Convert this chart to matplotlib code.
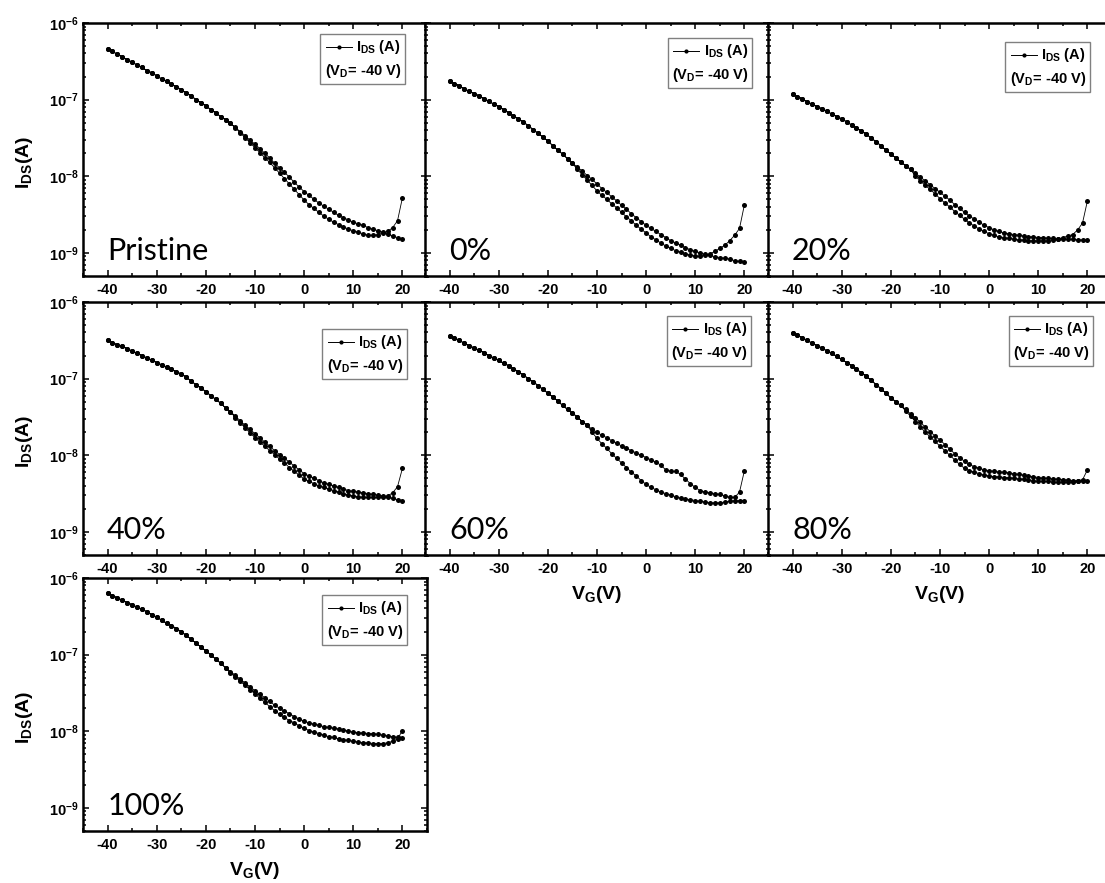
import numpy as np
import matplotlib
matplotlib.use("Agg")
import matplotlib.pyplot as plt
from matplotlib.ticker import FixedLocator, FuncFormatter, LogLocator, NullFormatter, MultipleLocator
from matplotlib.offsetbox import AnchoredOffsetbox, VPacker, HPacker, TextArea, DrawingArea
from matplotlib.lines import Line2D

plt.rcParams['font.family'] = ['Liberation Sans', 'DejaVu Sans']
plt.rcParams['mathtext.fontset'] = 'custom'
plt.rcParams['mathtext.rm'] = 'Liberation Sans'
plt.rcParams['mathtext.it'] = 'Liberation Sans:italic'
plt.rcParams['mathtext.bf'] = 'Liberation Sans:bold'

# ---------------- data (log10 of I_DS in A), V_G from -40 V to 20 V step 1 V ----------------
vg = list(range(-40, 21))

pristine_common = [-6.34, -6.37, -6.41, -6.44, -6.48, -6.51, -6.55, -6.58, -6.62, -6.65, -6.69, -6.73, -6.76,
                   -6.80, -6.83, -6.87, -6.91, -6.95, -7.00, -7.04, -7.08, -7.13, -7.17, -7.22, -7.26, -7.31]
pristine_a = pristine_common + [-7.37, -7.43, -7.50, -7.56, -7.63, -7.69, -7.76, -7.82, -7.89, -7.96, -8.03, -8.10,
                                -8.17, -8.24, -8.31, -8.37, -8.42, -8.47, -8.52, -8.56, -8.60, -8.63, -8.66, -8.69,
                                -8.71, -8.73, -8.75, -8.77, -8.77, -8.76, -8.74, -8.72, -8.67, -8.58, -8.28]
pristine_b = pristine_common + [-7.36, -7.42, -7.47, -7.53, -7.58, -7.64, -7.70, -7.76, -7.83, -7.89, -7.95, -8.01,
                                -8.08, -8.14, -8.20, -8.25, -8.30, -8.35, -8.39, -8.43, -8.47, -8.51, -8.54, -8.57,
                                -8.60, -8.62, -8.64, -8.67, -8.69, -8.71, -8.73, -8.75, -8.78, -8.80, -8.82]

p00_common = [-6.76, -6.79, -6.82, -6.86, -6.89, -6.92, -6.95, -6.99, -7.02, -7.06, -7.09, -7.13, -7.17,
              -7.21, -7.25, -7.29, -7.34, -7.39, -7.44, -7.49, -7.54, -7.60, -7.66, -7.71, -7.77, -7.83]
p00_a = p00_common + [-7.91, -7.98, -8.05, -8.12, -8.19, -8.25, -8.30, -8.36, -8.41, -8.47, -8.53, -8.58, -8.64,
                      -8.69, -8.74, -8.79, -8.83, -8.87, -8.91, -8.94, -8.97, -8.99, -9.01, -9.03, -9.04, -9.04,
                      -9.03, -9.01, -8.98, -8.94, -8.90, -8.84, -8.77, -8.68, -8.37]
p00_b = p00_common + [-7.88, -7.93, -7.99, -8.04, -8.10, -8.16, -8.21, -8.27, -8.32, -8.38, -8.43, -8.49, -8.54,
                      -8.59, -8.64, -8.68, -8.72, -8.76, -8.80, -8.84, -8.87, -8.90, -8.93, -8.96, -8.98, -9.00,
                      -9.02, -9.03, -9.05, -9.06, -9.07, -9.08, -9.10, -9.11, -9.12]

p20_common = [-6.93, -6.96, -6.99, -7.03, -7.06, -7.09, -7.12, -7.15, -7.19, -7.22, -7.25, -7.29, -7.33,
              -7.37, -7.41, -7.45, -7.50, -7.55, -7.60, -7.66, -7.71, -7.76, -7.81, -7.86, -7.91]
p20_a = p20_common + [-8.00, -8.06, -8.12, -8.17, -8.23, -8.29, -8.35, -8.40, -8.46, -8.51, -8.56, -8.61, -8.65,
                      -8.69, -8.72, -8.75, -8.77, -8.79, -8.80, -8.81, -8.82, -8.83, -8.83, -8.84, -8.84, -8.84,
                      -8.84, -8.84, -8.83, -8.82, -8.80, -8.78, -8.76, -8.70, -8.61, -8.32]
p20_b = p20_common + [-7.96, -8.01, -8.06, -8.11, -8.16, -8.21, -8.26, -8.31, -8.37, -8.42, -8.47, -8.52, -8.56,
                      -8.60, -8.64, -8.67, -8.70, -8.72, -8.74, -8.75, -8.76, -8.77, -8.78, -8.79, -8.79, -8.80,
                      -8.80, -8.81, -8.81, -8.82, -8.82, -8.82, -8.82, -8.83, -8.83, -8.83]

p40_common = [-6.50, -6.53, -6.56, -6.58, -6.61, -6.64, -6.67, -6.70, -6.73, -6.76, -6.79, -6.82, -6.85,
              -6.88, -6.91, -6.94, -6.98, -7.03, -7.08, -7.12, -7.17, -7.22, -7.27, -7.32, -7.38, -7.43]
p40_a = p40_common + [-7.51, -7.58, -7.64, -7.71, -7.77, -7.83, -7.88, -7.94, -7.99, -8.05, -8.10, -8.16, -8.21,
                      -8.26, -8.31, -8.34, -8.37, -8.40, -8.42, -8.44, -8.46, -8.48, -8.50, -8.52, -8.53, -8.54,
                      -8.55, -8.55, -8.55, -8.55, -8.54, -8.53, -8.49, -8.41, -8.17]
p40_b = p40_common + [-7.49, -7.55, -7.61, -7.66, -7.72, -7.77, -7.83, -7.88, -7.94, -7.99, -8.04, -8.09, -8.14,
                      -8.19, -8.24, -8.27, -8.30, -8.33, -8.36, -8.38, -8.40, -8.42, -8.44, -8.46, -8.47, -8.48,
                      -8.49, -8.50, -8.51, -8.52, -8.53, -8.55, -8.56, -8.58, -8.59]

p60_common = [-6.44, -6.47, -6.50, -6.54, -6.57, -6.60, -6.63, -6.66, -6.70, -6.73, -6.76, -6.80, -6.83,
              -6.87, -6.91, -6.95, -7.00, -7.04, -7.09, -7.14, -7.19, -7.24, -7.29, -7.35, -7.40, -7.45,
              -7.50, -7.56, -7.61]
p60_a = p60_common + [-7.66, -7.70, -7.74, -7.77, -7.81, -7.84, -7.88, -7.91, -7.94, -7.97, -8.00, -8.03, -8.06,
                      -8.09, -8.13, -8.19, -8.21, -8.21, -8.25, -8.31, -8.37, -8.42, -8.46, -8.48, -8.49, -8.50,
                      -8.51, -8.53, -8.55, -8.55, -8.48, -8.20]
p60_b = p60_common + [-7.70, -7.78, -7.85, -7.91, -7.98, -8.04, -8.10, -8.16, -8.22, -8.27, -8.33, -8.38, -8.42,
                      -8.45, -8.48, -8.50, -8.52, -8.54, -8.56, -8.57, -8.58, -8.59, -8.60, -8.61, -8.62, -8.62,
                      -8.62, -8.61, -8.60, -8.59, -8.59, -8.59]

p80_common = [-6.40, -6.43, -6.47, -6.50, -6.54, -6.57, -6.60, -6.64, -6.67, -6.71, -6.75, -6.79, -6.83,
              -6.88, -6.92, -6.97, -7.02, -7.08, -7.13, -7.19, -7.25, -7.30, -7.35]
p80_a = p80_common + [-7.40, -7.46, -7.51, -7.57, -7.63, -7.69, -7.75, -7.80, -7.86, -7.92, -7.98, -8.03, -8.08,
                      -8.12, -8.15, -8.17, -8.19, -8.20, -8.21, -8.22, -8.22, -8.23, -8.24, -8.25, -8.26, -8.27,
                      -8.28, -8.29, -8.30, -8.30, -8.31, -8.31, -8.32, -8.32, -8.33, -8.33, -8.32, -8.19]
p80_b = p80_common + [-7.42, -7.49, -7.56, -7.63, -7.70, -7.76, -7.82, -7.88, -7.94, -8.00, -8.06, -8.12, -8.17,
                      -8.20, -8.22, -8.24, -8.26, -8.27, -8.28, -8.28, -8.29, -8.29, -8.30, -8.31, -8.31, -8.32,
                      -8.33, -8.34, -8.34, -8.34, -8.35, -8.35, -8.35, -8.35, -8.35, -8.34, -8.34, -8.33]

p100_common = [-6.20, -6.23, -6.26, -6.29, -6.32, -6.35, -6.38, -6.41, -6.44, -6.48, -6.51, -6.55, -6.59,
               -6.62, -6.66, -6.70, -6.75, -6.80, -6.85, -6.90, -6.95, -7.00, -7.06, -7.11, -7.17]
p100_a = p100_common + [-7.24, -7.29, -7.35, -7.40, -7.46, -7.51, -7.57, -7.62, -7.68, -7.73, -7.78, -7.82, -7.86,
                        -7.89, -7.93, -7.96, -7.99, -8.01, -8.03, -8.05, -8.07, -8.08, -8.10, -8.11, -8.12, -8.13,
                        -8.14, -8.15, -8.15, -8.16, -8.16, -8.16, -8.15, -8.13, -8.10, -7.99]
p100_b = p100_common + [-7.22, -7.27, -7.32, -7.37, -7.42, -7.47, -7.52, -7.56, -7.61, -7.66, -7.70, -7.74, -7.77,
                        -7.81, -7.84, -7.87, -7.89, -7.91, -7.92, -7.94, -7.95, -7.96, -7.97, -7.98, -8.00, -8.01,
                        -8.02, -8.02, -8.03, -8.03, -8.04, -8.05, -8.06, -8.07, -8.08, -8.09]

panel_names = ['Pristine', '0%', '20%', '40%', '60%', '80%', '100%']
branch_a = [pristine_a, p00_a, p20_a, p40_a, p60_a, p80_a, p100_a]
branch_b = [pristine_b, p00_b, p20_b, p40_b, p60_b, p80_b, p100_b]
x_ticks = [-40, -30, -20, -10, 0, 10, 20]
y_ticks = [1e-9, 1e-8, 1e-7, 1e-6]

# ---------------- layout (pixels in a 1105 x 883 figure) ----------------
W, H = 1105, 883
col_left = [83, 425, 768]
row_top = [23, 302, 578]
ax_w, ax_h = 344, 253
grid = [(0, 0), (0, 1), (0, 2), (1, 0), (1, 1), (1, 2), (2, 0)]
legend_anchor = [(0.936, 0.957), (0.951, 0.941), (0.936, 0.925), (0.942, 0.893),
                 (0.948, 0.945), (0.945, 0.945), (0.942, 0.933)]
show_xlabel = [False, False, False, False, True, True, True]

fig = plt.figure(figsize=(W / 100, H / 100), dpi=100)

for i, name in enumerate(panel_names):
    r, c = grid[i]
    ax = fig.add_axes([col_left[c] / W, 1 - (row_top[r] + ax_h) / H, ax_w / W, ax_h / H])
    a = np.array(branch_a[i]); b = np.array(branch_b[i])
    assert len(a) == 61 and len(b) == 61
    v = np.array(vg)
    xs = np.concatenate([v[::-1], v])
    ys = np.concatenate([10 ** a[::-1], 10 ** b])
    ax.plot(xs, ys, color='black', lw=0.6, marker='o', ms=3.6, mew=0)
    ax.set_yscale('log')
    ax.set_xlim(-45, 25)
    ax.set_ylim(5e-10, 1e-6)
    ax.xaxis.set_major_locator(FixedLocator(x_ticks))
    ax.xaxis.set_minor_locator(MultipleLocator(5))
    ax.yaxis.set_major_locator(FixedLocator(y_ticks))
    ax.yaxis.set_minor_locator(LogLocator(base=10, subs=np.arange(2, 10)))
    ax.yaxis.set_minor_formatter(NullFormatter())
    ax.tick_params(which='both', direction='in', top=True, right=True, width=1.1)
    ax.tick_params(which='major', length=4.5)
    ax.tick_params(which='minor', length=2.5)
    ax.tick_params(axis='x', which='major', labelsize=10.5, pad=5)
    ax.xaxis.set_major_formatter(FuncFormatter(lambda x, p: '%d' % x))
    for s in ax.spines.values():
        s.set_linewidth(1.8)
    if c == 0:
        ax.yaxis.set_major_formatter(FuncFormatter(lambda y, p: r'$\mathbf{10^{%d}}$' % round(np.log10(y))))
        ax.tick_params(axis='y', which='major', labelsize=10.5, pad=3)
        ax.set_ylabel(r'$\mathbf{I_{DS}(A)}$', fontsize=14)
        ax.yaxis.set_label_coords(-0.14, 0.45)
    else:
        ax.yaxis.set_major_formatter(NullFormatter())
    if show_xlabel[i]:
        ax.set_xlabel(r'$\mathbf{V_{G}(V)}$', fontsize=14, labelpad=6)
    for lab in ax.get_xticklabels():
        lab.set_fontweight('bold')
    ax.text(0.07, 0.065, name, transform=ax.transAxes, fontsize=22,
            family=['Lato', 'DejaVu Sans'], va='baseline', ha='left')

    # legend box
    da = DrawingArea(19, 8, 0, 0)
    da.add_artist(Line2D([0, 19], [4, 4], color='black', lw=0.7))
    da.add_artist(Line2D([9.5], [4], color='black', marker='o', ms=3, mew=0))
    t1 = TextArea(r'$\mathbf{I_{DS}}$' + ' (A)', textprops=dict(fontsize=10.5, fontweight='bold'))
    t2 = TextArea(r'($\mathbf{V_{D}}$= -40 V)', textprops=dict(fontsize=10.5, fontweight='bold'))
    row1 = HPacker(children=[da, t1], align='center', pad=0, sep=3)
    box = VPacker(children=[row1, t2], align='right', pad=0, sep=4)
    anch = AnchoredOffsetbox(loc='upper right', child=box, pad=0.3, borderpad=0, frameon=True,
                             bbox_to_anchor=legend_anchor[i], bbox_transform=ax.transAxes)
    anch.patch.set_edgecolor('#808080')
    anch.patch.set_linewidth(1.0)
    ax.add_artist(anch)

fig.savefig('out.png', dpi=100)
